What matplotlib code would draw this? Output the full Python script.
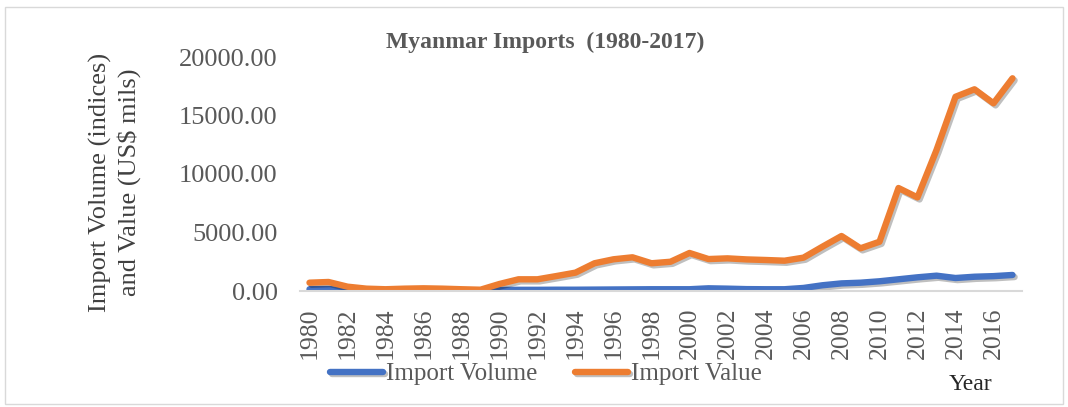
import matplotlib
matplotlib.use("Agg")
import matplotlib.pyplot as plt
import matplotlib.patheffects as pe
from matplotlib.patches import Rectangle

plt.rcParams['font.family'] = ['Liberation Serif', 'DejaVu Serif']

years = list(range(1980, 2018))
import_volume = [150, 170, 40, 20, 20, 20, 20, 20, 20, 20,
                 90, 100, 100, 110, 110, 120, 130, 140, 150, 150,
                 150, 230, 200, 160, 150, 150, 260, 490, 650, 710,
                 830, 1000, 1170, 1310, 1110, 1220, 1270, 1370]
import_value = [710, 770, 370, 200, 150, 200, 230, 200, 150, 110,
                600, 1000, 1000, 1280, 1570, 2370, 2710, 2880, 2370, 2500,
                3250, 2730, 2790, 2700, 2650, 2590, 2850, 3790, 4700, 3650,
                4210, 8800, 8000, 12050, 16600, 17240, 16040, 18180]
tick_years = list(range(1980, 2017, 2))
y_ticks = [0, 5000, 10000, 15000, 20000]

blue = '#4472C4'
orange = '#ED7D31'
label_grey = '#595959'

fig = plt.figure(figsize=(10.68, 4.07), dpi=100)
ax = fig.add_axes([300 / 1068, 116 / 407, 722 / 1068, 234 / 407])

# excel-style soft shadow under the lines
shadow = [pe.SimpleLineShadow(offset=(1.5, -1.5), shadow_color='black', alpha=0.25),
          pe.Normal()]
ax.plot(years, import_volume, color=blue, lw=4.6, solid_capstyle='round',
        solid_joinstyle='round', label='Import Volume', path_effects=shadow)
ax.plot(years, import_value, color=orange, lw=4.6, solid_capstyle='round',
        solid_joinstyle='round', label='Import Value', path_effects=shadow)

ax.set_xlim(1979.5, 2017.5)
ax.set_ylim(0, 20000)
ax.set_yticks(y_ticks)
ax.set_yticklabels([f'{v:.2f}' for v in y_ticks])
ax.set_xticks(tick_years)
ax.set_xticklabels([str(y) for y in tick_years], rotation=90)
ax.tick_params(axis='y', length=0, pad=16, labelsize=19, labelcolor=label_grey)
ax.tick_params(axis='x', length=0, pad=12, labelsize=18.5, labelcolor=label_grey)

for side in ['top', 'right', 'left']:
    ax.spines[side].set_visible(False)
ax.spines['bottom'].set_color('#D9D9D9')
ax.spines['bottom'].set_linewidth(1.5)

fig.text(545 / 1068, 1 - 42 / 407, 'Myanmar Imports  (1980-2017)', ha='center',
         va='center', fontsize=17, fontweight='bold', color=label_grey)
fig.text(115 / 1068, 1 - 182 / 407, 'Import Volume (indices)\nand Value (US$ mils)',
         rotation=90, ha='center', va='center', fontsize=19, color='#404040',
         linespacing=1.25)
fig.text(970 / 1068, 1 - 384 / 407, 'Year', ha='center', va='center',
         fontsize=17, color='#262626')

fig.legend(loc='center left', bbox_to_anchor=(307 / 1068, 1 - 374 / 407), ncol=2,
           frameon=False, fontsize=18, handlelength=2.15, handletextpad=0.1,
           columnspacing=1.5, labelcolor=label_grey)

fig.patches.append(Rectangle((5 / 1068, 3 / 407), 1058 / 1068, 397 / 407,
                             transform=fig.transFigure, fill=False,
                             edgecolor='#D9D9D9', lw=1))

fig.savefig('out.png', dpi=100)
